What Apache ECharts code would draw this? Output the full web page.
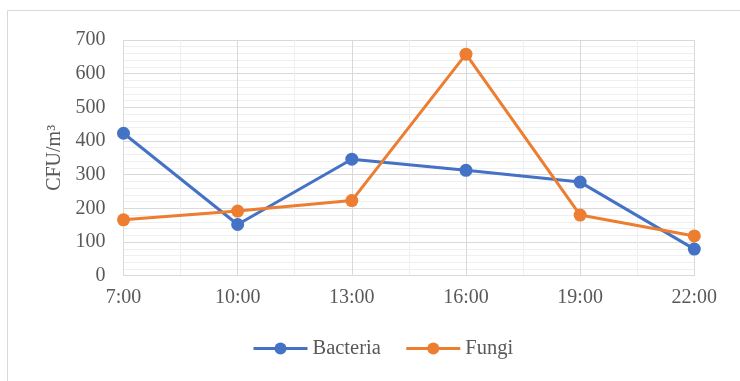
<!DOCTYPE html>
<html><head><meta charset="utf-8">
<script src="https://cdn.jsdelivr.net/npm/echarts@6/dist/echarts.min.js"></script>
<style>html,body{margin:0;padding:0;background:#fff}#c{width:740px;height:381px}</style>
</head><body><div id="c"></div>
<script>
var categories = ['7:00','10:00','13:00','16:00','19:00','22:00'];
var bacteria = [423, 152, 346, 313, 278, 79];
var fungi = [166, 192, 223, 658, 180, 118];
var yTicks = [0, 700, 100];

var chart = echarts.init(document.getElementById('c'));
var font = 'Liberation Serif';
chart.setOption({
  animation: false,
  graphic: [{type:'rect', shape:{x:7.5,y:10.5,width:740,height:380}, style:{fill:'none', stroke:'#d9d9d9', lineWidth:1}, z:-10}],
  grid: {left:123.5, right:45.7, top:40, bottom:105.3},
  legend: {
    left: 252, top: 338, padding: 0,
    itemWidth: 54, itemHeight: 15, itemGap: 24,
    lineStyle: {width: 3},
    textStyle: {fontFamily: font, fontSize: 20.5, color: '#595959', padding: [0,0,0,0]},
    data: ['Bacteria', 'Fungi']
  },
  xAxis: [{
    type: 'category', data: categories, boundaryGap: false,
    axisLine: {lineStyle: {color: '#d9d9d9', width: 1}},
    axisTick: {show: false},
    axisLabel: {fontFamily: font, fontSize: 20, color: '#595959', margin: 12},
    splitLine: {show: true, lineStyle: {color: '#d9d9d9', width: 1}}
  }, {
    type: 'value', min: 0, max: 5, interval: 1, position: 'bottom',
    axisLine: {show: false}, axisTick: {show: false}, axisLabel: {show: false},
    splitLine: {show: false},
    minorTick: {show: false, splitNumber: 2},
    minorSplitLine: {show: true, lineStyle: {color: '#efefef', width: 1}}
  }],
  yAxis: {
    type: 'value', min: yTicks[0], max: yTicks[1], interval: yTicks[2],
    name: 'CFU/m³', nameLocation: 'middle', nameGap: 57, nameRotate: 90,
    nameTextStyle: {fontFamily: font, fontSize: 20, color: '#595959'},
    axisLine: {show: false}, axisTick: {show: false},
    axisLabel: {fontFamily: font, fontSize: 20, color: '#595959', margin: 18},
    splitLine: {show: true, lineStyle: {color: '#d9d9d9', width: 1}},
    minorTick: {show: false, splitNumber: 5},
    minorSplitLine: {show: true, lineStyle: {color: '#efefef', width: 1}}
  },
  series: [{
    name: 'Bacteria', type: 'line', data: bacteria, xAxisIndex: 0,
    symbol: 'circle', symbolSize: 13,
    lineStyle: {color: '#4472C4', width: 3}, itemStyle: {color: '#4472C4'}
  }, {
    name: 'Fungi', type: 'line', data: fungi, xAxisIndex: 0,
    symbol: 'circle', symbolSize: 13,
    lineStyle: {color: '#ED7D31', width: 3}, itemStyle: {color: '#ED7D31'}
  }]
});
</script></body></html>
